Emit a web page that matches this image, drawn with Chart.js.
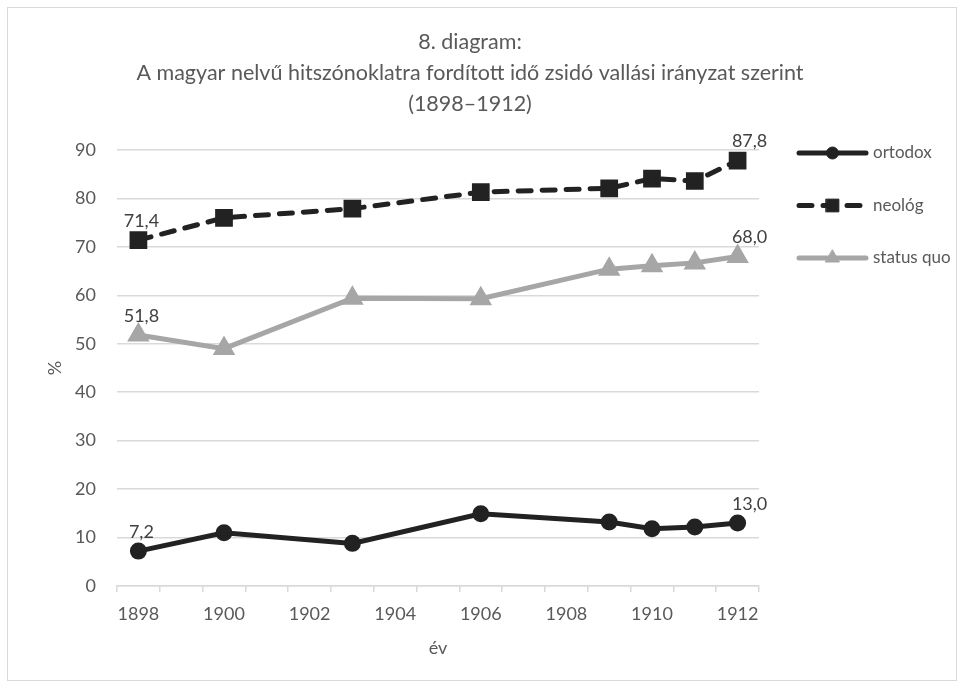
<!DOCTYPE html>
<html>
<head>
<meta charset="utf-8">
<script src="https://cdn.jsdelivr.net/npm/chart.js@4.4.1/dist/chart.umd.min.js"></script>
<style>
    html, body { margin: 0; padding: 0; background: #fff; }
    #wrap { width: 964px; height: 688px; }
</style>
</head>
<body>
<div id="wrap"><canvas id="chart" width="964" height="688"></canvas></div>
<script>
// category axis: every year, the gaps are bridged by the line
const years = ['1898', '1899', '1900', '1901', '1902', '1903', '1904', '1905',
    '1906', '1907', '1908', '1909', '1910', '1911', '1912'];

const ortodox = [7.2, null, 11.0, null, null, 8.8, null, null, 14.9, null, null, 13.2, 11.8, 12.2, 13.0];
const neolog = [71.4, null, 76.0, null, null, 77.9, null, null, 81.3, null, null, 82.1, 84.1, 83.6, 87.8];
const statusQuo = [51.8, null, 49.0, null, null, 59.4, null, null, 59.3, null, null, 65.4, 66.1, 66.7, 68.0];

const seriesNames = ['ortodox', 'neológ', 'status quo'];
const yTicks = [0, 10, 20, 30, 40, 50, 60, 70, 80, 90];

const titleLines = [
    '8. diagram:',
    'A magyar nelvű hitszónoklatra fordított idő zsidó vallási irányzat szerint',
    '(1898–1912)'
];

const FONT = 'Lato, "Open Sans", sans-serif';
const TEXT = '#595959';
const GRID = '#d9d9d9';

function fmt(v) {
    return v.toFixed(1).replace('.', ',');
}

// frame + title
const framePlugin = {
    id: 'frame',
    beforeDraw(chart) {
        const ctx = chart.ctx;
        ctx.save();
        ctx.fillStyle = '#fff';
        ctx.fillRect(0, 0, chart.width, chart.height);
        ctx.strokeStyle = GRID;
        ctx.lineWidth = 1;
        ctx.strokeRect(7.5, 7.5, 949, 673);
        ctx.fillStyle = TEXT;
        ctx.font = '21.5px ' + FONT;
        ctx.textAlign = 'center';
        ctx.textBaseline = 'middle';
        titleLines.forEach((line, i) => ctx.fillText(line, 470, 42 + i * 31));
        ctx.restore();
    }
};

// value labels on first and last point of each series
const endLabelsPlugin = {
    id: 'endLabels',
    afterDatasetsDraw(chart) {
        const ctx = chart.ctx;
        ctx.save();
        ctx.fillStyle = '#404040';
        ctx.font = '18px ' + FONT;
        ctx.textAlign = 'center';
        ctx.textBaseline = 'middle';
        chart.data.datasets.forEach((ds, di) => {
            const meta = chart.getDatasetMeta(di);
            const idx = ds.data.map((v, i) => v === null ? -1 : i).filter(i => i >= 0);
            const first = idx[0];
            const last = idx[idx.length - 1];
            [[first, 3], [last, 12]].forEach(([i, dx]) => {
                const pt = meta.data[i];
                ctx.fillText(fmt(ds.data[i]), pt.x + dx, pt.y - 19);
            });
        });
        ctx.restore();
    }
};

// legend on the right: line sample with marker in the middle
const sideLegendPlugin = {
    id: 'sideLegend',
    afterDraw(chart) {
        const ctx = chart.ctx;
        const area = chart.chartArea;
        const x0 = area.right + 38;
        const x1 = x0 + 71;
        ctx.save();
        chart.data.datasets.forEach((ds, i) => {
            const y = area.top + 3 + i * 52.5;
            ctx.strokeStyle = ds.borderColor;
            ctx.lineWidth = ds.borderWidth;
            ctx.lineCap = 'round';
            ctx.setLineDash(ds.borderDash || []);
            ctx.beginPath();
            ctx.moveTo(x0 + 2, y);
            ctx.lineTo(x1 - 2, y);
            ctx.stroke();
            ctx.setLineDash([]);
            ctx.fillStyle = ds.pointBackgroundColor;
            ctx.strokeStyle = ds.pointBorderColor;
            ctx.lineWidth = 1;
            Chart.helpers.drawPoint(ctx, {
                pointStyle: ds.pointStyle,
                radius: ds.pointRadius,
                rotation: 0,
                borderWidth: 1
            }, (x0 + x1) / 2, y);
            ctx.fillStyle = TEXT;
            ctx.font = '17px ' + FONT;
            ctx.textAlign = 'left';
            ctx.textBaseline = 'middle';
            ctx.fillText(ds.label, x1 + 5, y);
        });
        ctx.restore();
    }
};

const ctx = document.getElementById('chart').getContext('2d');

new Chart(ctx, {
    type: 'line',
    data: {
        labels: years,
        datasets: [{
            label: seriesNames[0],
            data: ortodox,
            borderColor: '#222222',
            borderWidth: 5,
            pointStyle: 'circle',
            pointRadius: 6,
            pointBackgroundColor: '#222222',
            pointBorderColor: '#222222',
            spanGaps: true
        }, {
            label: seriesNames[1],
            data: neolog,
            borderColor: '#222222',
            borderWidth: 5,
            borderDash: [13, 11],
            borderCapStyle: 'round',
            pointStyle: 'rect',
            pointRadius: 9,
            pointBackgroundColor: '#222222',
            pointBorderColor: '#222222',
            spanGaps: true
        }, {
            label: seriesNames[2],
            data: statusQuo,
            borderColor: '#a6a6a6',
            borderWidth: 5,
            pointStyle: 'triangle',
            pointRadius: 8,
            pointBackgroundColor: '#a6a6a6',
            pointBorderColor: '#a6a6a6',
            spanGaps: true
        }]
    },
    options: {
        responsive: false,
        animation: false,
        layout: {
            padding: { left: 0, top: 150, right: 205, bottom: 12 }
        },
        scales: {
            x: {
                type: 'category',
                offset: true,
                grid: {
                    offset: true,
                    drawOnChartArea: false,
                    drawTicks: true,
                    tickLength: 6,
                    color: GRID,
                    lineWidth: 1.5
                },
                border: { display: true, color: GRID, width: 1.5 },
                ticks: {
                    autoSkip: false,
                    maxRotation: 0,
                    padding: 11,
                    color: TEXT,
                    font: { family: FONT, size: 18 },
                    callback: function(value, index) {
                        return index % 2 === 0 ? this.getLabelForValue(value) : '';
                    }
                },
                title: {
                    display: true,
                    text: 'év',
                    color: TEXT,
                    font: { family: FONT, size: 18 },
                    padding: { top: 0, bottom: 17 }
                },
                afterFit(scale) {
                    scale.height = 90;
                }
            },
            y: {
                min: 0,
                max: 90,
                afterBuildTicks(scale) {
                    scale.ticks = yTicks.map(v => ({ value: v }));
                },
                grid: {
                    color: GRID,
                    lineWidth: 1.5,
                    drawTicks: false
                },
                border: { display: false },
                ticks: {
                    padding: 21,
                    color: TEXT,
                    font: { family: FONT, size: 18 }
                },
                title: {
                    display: true,
                    text: '%',
                    color: TEXT,
                    font: { family: FONT, size: 18 },
                    padding: { top: 44, bottom: 0 }
                },
                afterFit(scale) {
                    scale.width = 117;
                }
            }
        },
        plugins: {
            legend: { display: false },
            tooltip: { enabled: false }
        }
    },
    plugins: [framePlugin, endLabelsPlugin, sideLegendPlugin]
});
</script>
</body>
</html>
